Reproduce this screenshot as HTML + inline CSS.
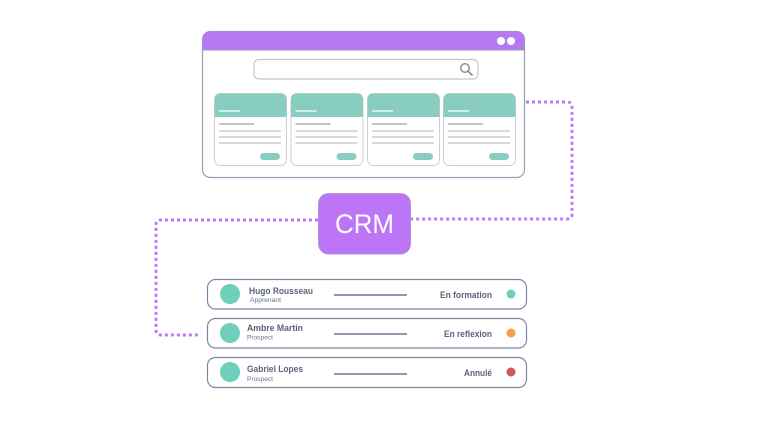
<!DOCTYPE html>
<html><head><meta charset="utf-8"><style>
html,body{margin:0;padding:0;background:#fff;}
svg{display:block;}
text{font-family:"Liberation Sans",sans-serif;}
</style></head><body>
<svg width="768" height="432" viewBox="0 0 768 432" xmlns="http://www.w3.org/2000/svg">
<rect width="768" height="432" fill="#fff"/>
<!-- dotted connectors -->
<g fill="none" stroke="#b87cf6" stroke-width="3" stroke-dasharray="3 3">
<path d="M526,102 H567 Q572,102 572,107 V214 Q572,219 567,219 H411"/>
<path d="M318,220 H161 Q156,220 156,225 V330 Q156,335 161,335 H201"/>
</g>
<!-- browser -->
<rect x="202.5" y="31.5" width="322" height="146" rx="8" fill="#fff" stroke="#9b9db8" stroke-width="1.2"/>
<path d="M202.5,50 V39.5 Q202.5,31.5 210.5,31.5 H516.5 Q524.5,31.5 524.5,39.5 V50 Z" fill="#b57af3"/>
<line x1="202.5" y1="50" x2="524.5" y2="50" stroke="#9b9db8" stroke-width="1"/>
<circle cx="501" cy="41" r="4" fill="#fff"/>
<circle cx="511" cy="41" r="4" fill="#fff"/>
<rect x="254" y="59.5" width="224" height="19.5" rx="5" fill="#fff" stroke="#c8c8cc" stroke-width="1.2"/>
<circle cx="465" cy="68" r="4.3" fill="none" stroke="#8a8a8e" stroke-width="1.4"/>
<line x1="468" y1="71.2" x2="472" y2="75" stroke="#8a8a8e" stroke-width="1.6" stroke-linecap="round"/>
<!-- cards -->
<g id="cards">
<g transform="translate(214,93)">
<rect x="0.5" y="0.5" width="72" height="72" rx="6" fill="#fff" stroke="#cfcfd2" stroke-width="1"/>
<path d="M0.5,24 V6.5 Q0.5,0.5 6.5,0.5 H66.5 Q72.5,0.5 72.5,6.5 V24 Z" fill="#88cdbf"/>
<line x1="5" y1="18" x2="26" y2="18" stroke="#e8f6f2" stroke-width="1.5"/>
<line x1="5" y1="31" x2="40" y2="31" stroke="#b0b0b4" stroke-width="1.5"/>
<line x1="5" y1="38" x2="67" y2="38" stroke="#c4c4c8" stroke-width="1.2"/>
<line x1="5" y1="44" x2="67" y2="44" stroke="#c4c4c8" stroke-width="1.2"/>
<line x1="5" y1="50" x2="67" y2="50" stroke="#c4c4c8" stroke-width="1.2"/>
<rect x="46" y="60" width="20" height="7" rx="3.5" fill="#88cdbf"/>
</g>
<g transform="translate(290.5,93)">
<rect x="0.5" y="0.5" width="72" height="72" rx="6" fill="#fff" stroke="#cfcfd2" stroke-width="1"/>
<path d="M0.5,24 V6.5 Q0.5,0.5 6.5,0.5 H66.5 Q72.5,0.5 72.5,6.5 V24 Z" fill="#88cdbf"/>
<line x1="5" y1="18" x2="26" y2="18" stroke="#e8f6f2" stroke-width="1.5"/>
<line x1="5" y1="31" x2="40" y2="31" stroke="#b0b0b4" stroke-width="1.5"/>
<line x1="5" y1="38" x2="67" y2="38" stroke="#c4c4c8" stroke-width="1.2"/>
<line x1="5" y1="44" x2="67" y2="44" stroke="#c4c4c8" stroke-width="1.2"/>
<line x1="5" y1="50" x2="67" y2="50" stroke="#c4c4c8" stroke-width="1.2"/>
<rect x="46" y="60" width="20" height="7" rx="3.5" fill="#88cdbf"/>
</g>
<g transform="translate(367,93)">
<rect x="0.5" y="0.5" width="72" height="72" rx="6" fill="#fff" stroke="#cfcfd2" stroke-width="1"/>
<path d="M0.5,24 V6.5 Q0.5,0.5 6.5,0.5 H66.5 Q72.5,0.5 72.5,6.5 V24 Z" fill="#88cdbf"/>
<line x1="5" y1="18" x2="26" y2="18" stroke="#e8f6f2" stroke-width="1.5"/>
<line x1="5" y1="31" x2="40" y2="31" stroke="#b0b0b4" stroke-width="1.5"/>
<line x1="5" y1="38" x2="67" y2="38" stroke="#c4c4c8" stroke-width="1.2"/>
<line x1="5" y1="44" x2="67" y2="44" stroke="#c4c4c8" stroke-width="1.2"/>
<line x1="5" y1="50" x2="67" y2="50" stroke="#c4c4c8" stroke-width="1.2"/>
<rect x="46" y="60" width="20" height="7" rx="3.5" fill="#88cdbf"/>
</g>
<g transform="translate(443,93)">
<rect x="0.5" y="0.5" width="72" height="72" rx="6" fill="#fff" stroke="#cfcfd2" stroke-width="1"/>
<path d="M0.5,24 V6.5 Q0.5,0.5 6.5,0.5 H66.5 Q72.5,0.5 72.5,6.5 V24 Z" fill="#88cdbf"/>
<line x1="5" y1="18" x2="26" y2="18" stroke="#e8f6f2" stroke-width="1.5"/>
<line x1="5" y1="31" x2="40" y2="31" stroke="#b0b0b4" stroke-width="1.5"/>
<line x1="5" y1="38" x2="67" y2="38" stroke="#c4c4c8" stroke-width="1.2"/>
<line x1="5" y1="44" x2="67" y2="44" stroke="#c4c4c8" stroke-width="1.2"/>
<line x1="5" y1="50" x2="67" y2="50" stroke="#c4c4c8" stroke-width="1.2"/>
<rect x="46" y="60" width="20" height="7" rx="3.5" fill="#88cdbf"/>
</g>
</g>
<!-- CRM -->
<rect x="318.5" y="193.5" width="92" height="60.5" rx="10" fill="#bd75f7" stroke="#a98fc4" stroke-width="0.8"/>
<text x="364.5" y="233" font-size="27" fill="#fff" text-anchor="middle" textLength="59" lengthAdjust="spacingAndGlyphs">CRM</text>
<!-- rows -->
<g stroke="#7f86a4" stroke-width="1.2" fill="#fff">
<rect x="207.5" y="279.5" width="319" height="29.5" rx="8"/>
<rect x="207.5" y="318.5" width="319" height="29.5" rx="8"/>
<rect x="207.5" y="357.5" width="319" height="30" rx="8"/>
</g>
<g fill="#6fcfbb">
<circle cx="230" cy="294" r="10"/>
<circle cx="230" cy="333" r="10"/>
<circle cx="230" cy="372" r="10"/>
</g>
<g stroke="#6d7592" stroke-width="1.5">
<line x1="334" y1="295" x2="407" y2="295"/>
<line x1="334" y1="334" x2="407" y2="334"/>
<line x1="334" y1="374" x2="407" y2="374"/>
</g>
<g fill="#5b6379" font-weight="bold">
<text x="249" y="294" font-size="9" textLength="64" lengthAdjust="spacingAndGlyphs">Hugo Rousseau</text>
<text x="247" y="331" font-size="9" textLength="56" lengthAdjust="spacingAndGlyphs">Ambre Martin</text>
<text x="247" y="372" font-size="9" textLength="56" lengthAdjust="spacingAndGlyphs">Gabriel Lopes</text>
<text x="440" y="298" font-size="9" textLength="52" lengthAdjust="spacingAndGlyphs">En formation</text>
<text x="444" y="337" font-size="9" textLength="48" lengthAdjust="spacingAndGlyphs">En reflexion</text>
<text x="464" y="376" font-size="9" textLength="28" lengthAdjust="spacingAndGlyphs">Annulé</text>
</g>
<g fill="#6b7288" font-size="6">
<text x="250" y="302" textLength="31" lengthAdjust="spacingAndGlyphs">Apprenant</text>
<text x="247" y="339.5" textLength="26" lengthAdjust="spacingAndGlyphs">Prospect</text>
<text x="247" y="381" textLength="26" lengthAdjust="spacingAndGlyphs">Prospect</text>
</g>
<circle cx="511" cy="294" r="4.5" fill="#6fcfbb"/>
<circle cx="511" cy="333" r="4.5" fill="#f6a04c"/>
<circle cx="511" cy="372" r="4.5" fill="#cc5b5b"/>
</svg>
</body></html>
